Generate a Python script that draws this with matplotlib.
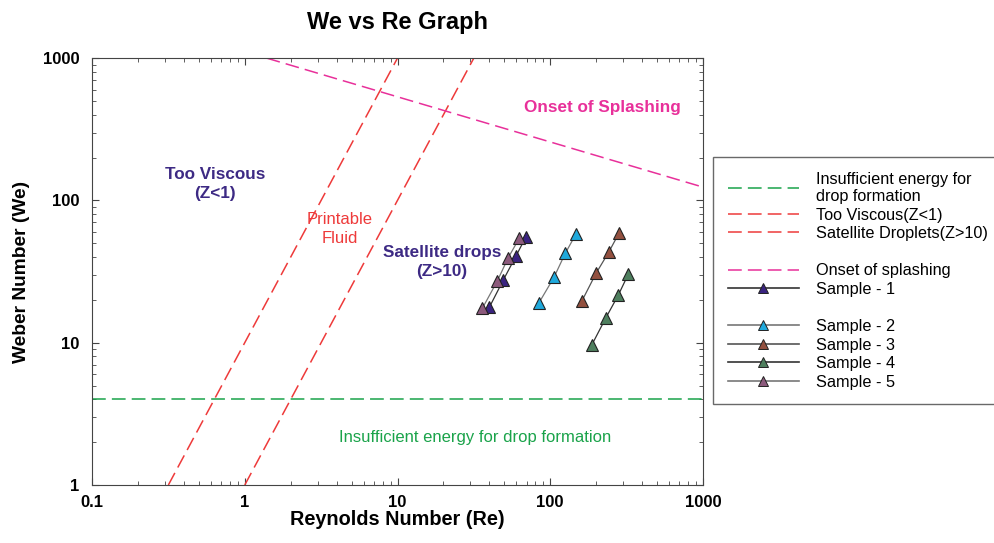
import matplotlib.pyplot as plt
from matplotlib.lines import Line2D

plt.rcParams['font.family'] = ['Liberation Sans', 'DejaVu Sans']

# Regime boundary lines (Re, We end points)
energy_re = [0.1, 1000]
energy_we = [4, 4]
viscous_re = [0.316, 10]
viscous_we = [1, 1000]
satellite_re = [1, 31.6]
satellite_we = [1, 1000]
splash_re = [1.39, 1000]
splash_we = [1000, 124]

# Measured samples
sample_names = ['Sample - 1', 'Sample - 2', 'Sample - 3', 'Sample - 4', 'Sample - 5']
sample_re = [
    [39.9, 49.3, 59.7, 69.4],
    [84.0, 105.8, 125.5, 147.5],
    [161.4, 199.4, 242.5, 283.0],
    [186.7, 231.7, 279.0, 324.0],
    [35.9, 45.0, 53.1, 62.7],
]
sample_we = [
    [17.7, 27.6, 40.7, 55.6],
    [18.9, 28.8, 42.5, 58.1],
    [19.7, 30.7, 43.6, 59.3],
    [9.6, 15.0, 21.6, 30.2],
    [17.4, 27.1, 39.6, 54.2],
]
sample_colors = ['#3a2380', '#1fa9dc', '#93503f', '#4e7f5e', '#8c5a7c']
line_colors = ['#333333', '#777777', '#555555', '#333333', '#777777']

fig = plt.figure(figsize=(9.95, 5.43), dpi=100)
ax = fig.add_axes([0.0925, 0.1068, 0.614, 0.7862])

dash = (0, (9, 4))
ax.plot(energy_re, energy_we, color='#1aa34a', lw=1.1, ls=dash)
ax.plot(viscous_re, viscous_we, color='#ee3a3a', lw=1.1, ls=dash)
ax.plot(satellite_re, satellite_we, color='#ee3a3a', lw=1.1, ls=dash)
ax.plot(splash_re, splash_we, color='#e8309a', lw=1.1, ls=dash)

for re, we, c, lc in zip(sample_re, sample_we, sample_colors, line_colors):
    ax.plot(re, we, color=lc, lw=0.9, marker='^', ms=8, mfc=c, mec='#222222', mew=0.8)

ax.set_xscale('log')
ax.set_yscale('log')
ax.set_xlim(0.1, 1000)
ax.set_ylim(1, 1000)
ax.set_xticks([0.1, 1, 10, 100, 1000])
ax.set_xticklabels(['0.1', '1', '10', '100', '1000'])
ax.set_yticks([1, 10, 100, 1000])
ax.set_yticklabels(['1', '10', '100', '1000'])
ax.tick_params(which='both', direction='in', top=True, right=True, color='#444444')
ax.tick_params(which='major', length=5, labelsize=12)
ax.tick_params(axis='y', which='major', pad=9)
ax.tick_params(axis='x', which='major', pad=7)
ax.tick_params(which='minor', length=3)
for lbl in ax.get_xticklabels() + ax.get_yticklabels():
    lbl.set_fontweight('bold')
for sp in ax.spines.values():
    sp.set_color('#444444')

ax.set_xlabel('Reynolds Number (Re)', fontsize=14.3, fontweight='bold', labelpad=0)
ax.set_ylabel('Weber Number (We)', fontsize=13.8, fontweight='bold', labelpad=9)
ax.set_title('We vs Re Graph', fontsize=17, fontweight='bold', pad=21)

# Region annotations
ax.text(0.64, 130, 'Too Viscous\n(Z<1)', color='#3d2a84', fontsize=12.3, fontweight='bold',
        ha='center', va='center', linespacing=1.35)
ax.text(4.2, 63, 'Printable\nFluid', color='#ee3a3a', fontsize=12, ha='center', va='center',
        linespacing=1.35)
ax.text(19.5, 37, 'Satellite drops\n(Z>10)', color='#3d2a84', fontsize=12.3, fontweight='bold',
        ha='center', va='center', linespacing=1.35)
ax.text(221, 453, 'Onset of Splashing', color='#e8309a', fontsize=12.3, fontweight='bold',
        ha='center', va='center')
ax.text(32, 2.14, 'Insufficient energy for drop formation', color='#1aa34a', fontsize=12,
        ha='center', va='center')

# Legend with spacer rows
blank = Line2D([], [], color='none')
handles = [
    Line2D([], [], color='#1aa34a', lw=1.1, ls=dash),
    Line2D([], [], color='#ee3a3a', lw=1.1, ls=dash),
    Line2D([], [], color='#ee3a3a', lw=1.1, ls=dash),
    blank,
    Line2D([], [], color='#e8309a', lw=1.1, ls=dash),
]
labels = ['Insufficient energy for\ndrop formation', 'Too Viscous(Z<1)',
          'Satellite Droplets(Z>10)', ' ', 'Onset of splashing']
for i, (name, c, lc) in enumerate(zip(sample_names, sample_colors, line_colors)):
    handles.append(Line2D([], [], color=lc, lw=1.2, marker='^', ms=7, mfc=c,
                          mec='#222222', mew=0.7))
    labels.append(name)
    if i == 0:
        handles.append(blank)
        labels.append(' ')

leg = fig.legend(handles, labels, loc='upper left', bbox_to_anchor=(0.7166, 0.711),
                 borderaxespad=0, fontsize=11.7, frameon=True, fancybox=False,
                 handlelength=4.4, handletextpad=1.05, labelspacing=0.22, borderpad=0.9,
                 markerscale=1.0, edgecolor='#444444')
leg.get_frame().set_linewidth(1.0)

fig.savefig('out.png', dpi=100)
